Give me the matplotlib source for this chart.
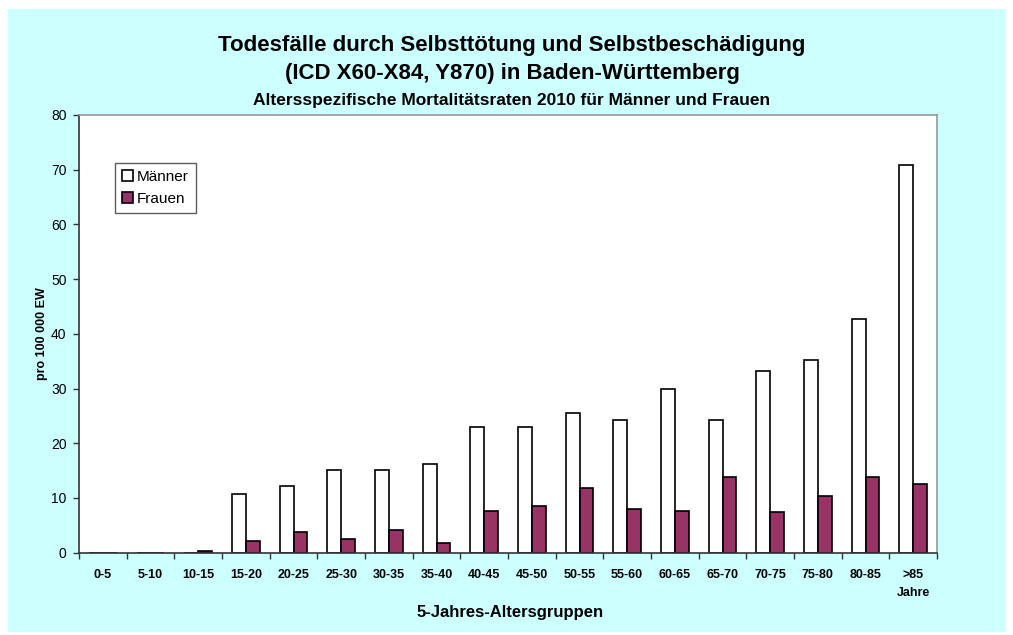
import numpy as np
import matplotlib
matplotlib.use("Agg")
import matplotlib.pyplot as plt
from matplotlib.patches import Rectangle

plt.rcParams['font.family'] = ['Liberation Sans', 'DejaVu Sans']

# data (per 100 000 inhabitants)
age_groups = ["0-5", "5-10", "10-15", "15-20", "20-25", "25-30", "30-35", "35-40",
              "40-45", "45-50", "50-55", "55-60", "60-65", "65-70", "70-75",
              "75-80", "80-85", ">85\nJahre"]
maenner = [0, 0, 0, 10.7, 12.1, 15.2, 15.2, 16.3, 23.0, 23.0, 25.6, 24.3,
           30.0, 24.3, 33.3, 35.2, 42.7, 70.8]
frauen = [0, 0, 0.4, 2.1, 3.7, 2.5, 4.1, 1.8, 7.6, 8.6, 11.8, 7.9,
          7.7, 13.8, 7.5, 10.3, 13.9, 12.5]

W, H = 1013, 635
fig = plt.figure(figsize=(W / 100, H / 100), dpi=100, facecolor="white")
# cyan panel
fig.patches.append(Rectangle((8 / W, 1 - 632 / H), (1006 - 8) / W, (632 - 9) / H,
                             transform=fig.transFigure, facecolor="#ccffff",
                             edgecolor="none", zorder=-1))

ax = fig.add_axes([79 / W, 1 - 552.7 / H, (937 - 79) / W, (552.7 - 115) / H])
ax.set_facecolor("white")

x = np.arange(len(age_groups))
w = 0.29
ax.bar(x - w / 2, maenner, w, color="white", edgecolor="black", linewidth=1.2, label="Männer")
ax.bar(x + w / 2, frauen, w, color="#993366", edgecolor="black", linewidth=1.2, label="Frauen")

ax.set_xlim(-0.5, len(age_groups) - 0.5)
ax.set_ylim(0, 80)
ax.set_yticks(range(0, 81, 10))
ax.tick_params(axis="y", labelsize=10, length=4, width=1, direction="out",
               color="#333333", pad=5)

ax.set_xticks(x)
ax.set_xticklabels(age_groups, fontsize=9, fontweight="bold", linespacing=1.6)
ax.tick_params(axis="x", which="major", length=0, pad=12)
ax.set_xticks(np.arange(-0.5, len(age_groups), 1), minor=True)
ax.tick_params(axis="x", which="minor", length=4, width=1, direction="out", color="#333333")

for side in ["left", "bottom"]:
    ax.spines[side].set_color("#333333")
    ax.spines[side].set_linewidth(1.2)
for side in ["top", "right"]:
    ax.spines[side].set_color("#999999")
    ax.spines[side].set_linewidth(1.2)

ax.set_ylabel("pro 100 000 EW", fontsize=9, fontweight="bold", labelpad=2)

leg = ax.legend(loc="upper left", bbox_to_anchor=(0.042, 0.89), fontsize=11,
                frameon=True, fancybox=False, handlelength=0.75, handleheight=0.75,
                handletextpad=0.25, borderpad=0.45, labelspacing=0.5,
                borderaxespad=0)
leg.get_frame().set_edgecolor("#333333")
leg.get_frame().set_linewidth(1)

cx = 512 / W
fig.text(cx, 1 - 45 / H, "Todesfälle durch Selbsttötung und Selbstbeschädigung",
         ha="center", va="center", fontsize=16, fontweight="bold")
fig.text(cx, 1 - 73 / H, "(ICD X60-X84, Y870) in Baden-Württemberg",
         ha="center", va="center", fontsize=16, fontweight="bold")
fig.text(cx, 1 - 100 / H, "Altersspezifische Mortalitätsraten 2010 für Männer und Frauen",
         ha="center", va="center", fontsize=12.5, fontweight="bold")
fig.text(510 / W, 1 - 613 / H, "5-Jahres-Altersgruppen", ha="center", va="center",
         fontsize=12, fontweight="bold")

fig.savefig("out.png", dpi=100, facecolor="white")
